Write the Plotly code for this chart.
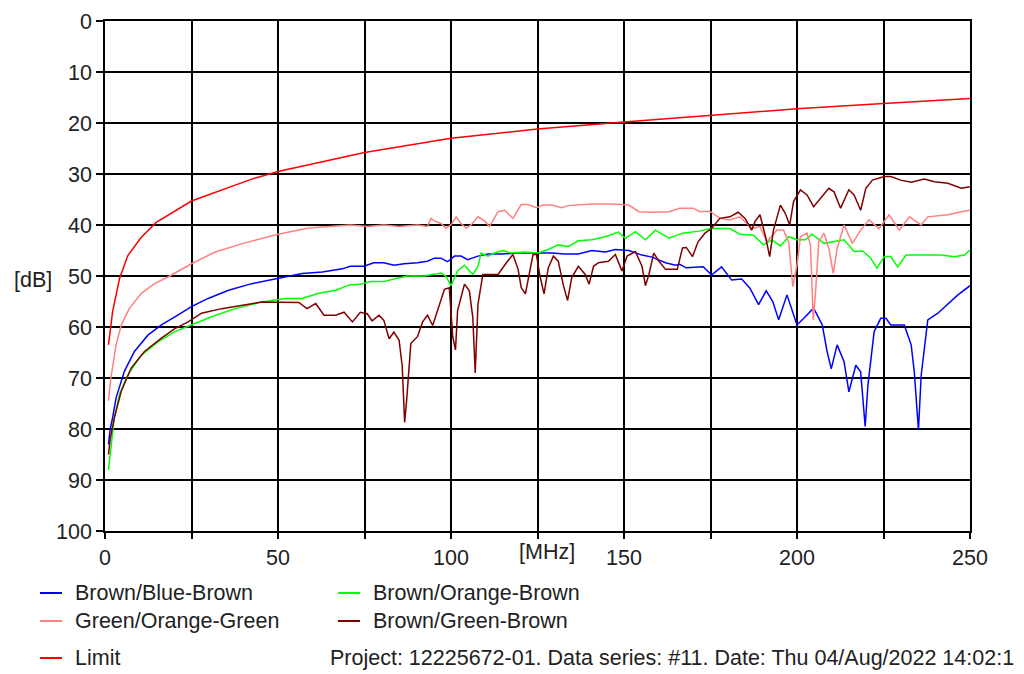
import plotly.graph_objects as go

# ---------------- data ----------------
blue_f = [1, 1.5, 2.2, 3.2, 5.6, 8.5, 12.4, 16.3, 20.2, 25, 29.8, 35.7, 42.4, 50, 57, 62.8, 68.6,
          70.9, 74.8, 77.7, 80.6, 83.5, 86.4, 90.3, 93.2, 95.2, 97.1, 99.0, 101.0, 102.9, 104.8, 107.8,
          110.7, 114.5, 119.4, 125.2, 129.1, 132.9, 136.8, 140.7, 144.6, 147.5, 151.4, 155.2, 158.1,
          162.0, 164.9, 166.1, 168.0, 172.9, 175.3, 178.2, 181.1, 184.0, 186.4, 188.9, 191.1, 193.0,
          194.7, 197.1, 200.0, 202.4, 204.8, 207.3, 208.7, 209.9, 211.6, 213.6, 215.0, 217.0, 218.4,
          219.7, 220.5, 222.3, 224.2, 225.7, 227.1, 231.0, 233.0, 233.9, 235.1, 235.9, 237.8, 240.7,
          243.6, 246.5, 250]
blue_db = [83, 80, 77.8, 73.9, 68.7, 64.8, 61.6, 59.6, 58, 56, 54.4, 52.8, 51.5, 50.5, 49.5, 49.2, 48.6,
           48.1, 48.1, 47.4, 47.4, 47.9, 47.6, 47.4, 47.1, 46.5, 46.5, 47.2, 46.1, 46.1, 46.8, 46.1,
           45.7, 45.7, 45.5, 45.5, 45.5, 45.7, 45.7, 45.0, 45.3, 44.8, 45.0, 45.9, 46.3,
           47.4, 47.9, 47.7, 48.4, 48.2, 49.8, 48.2, 50.8, 50.6, 52.4, 55.6, 52.9, 55.0,
           58.6, 53.7, 59.6, 58.0, 56.3, 59.6, 64.8, 68.2, 63.5, 66.8, 72.7, 67.5, 68.8,
           79.5, 71.4, 60.9, 58.3, 58.3, 59.6, 59.6, 63.5, 68.8, 80.2, 69.4, 58.6, 57.3,
           55.4, 53.7, 51.9]

green_f = [1, 1.5, 2.7, 4.2, 6.6, 10.5, 15.3, 20.2, 25, 30.8, 37.6, 45.3, 52.1, 56.9, 61.8, 66.7,
           70.9, 73.8, 76.7, 80.6, 83.5, 87.4, 92.2, 95.2, 97.1, 98.5, 100, 101.9, 103.9, 106.3, 107.8,
           108.7, 110.7, 112.6, 115.0, 117.4, 121.3, 125.2, 128.1, 131.0, 133.9, 136.8, 140.7, 144.6,
           148.4, 150.4, 153.3, 156.2, 159.1, 163.0, 166.9, 171.7, 175, 180.6, 183.5, 187.4, 190.3,
           192.7, 195.2, 197.6, 200.0, 202.4, 204.4, 207.8, 213.6, 216.5, 218.9, 221.3, 223.1, 225.2,
           227.1, 229.1, 231.5, 235.9, 241.7, 245.5, 248.4, 250]
green_db = [88, 85, 77.8, 73.2, 69.4, 65.5, 62.9, 60.9, 59.6, 58, 56.4, 55.1, 54.4, 54.4, 53.4, 52.8,
            51.7, 51.6, 51.1, 51.1, 50.6, 50.0, 50.0, 49.7, 49.4, 50.0, 51.9, 49.0, 47.9, 49.7, 48.1,
            45.5, 46.1, 45.5, 45.0, 45.5, 45.3, 45.5, 44.8, 43.9, 44.2, 43.1, 42.9, 42.3,
            41.4, 42.6, 41.3, 42.9, 41.0, 42.6, 41.6, 41.2, 40.7, 40.7, 41.8, 42.0, 43.9,
            42.9, 44.1, 42.3, 42.9, 42.9, 41.8, 43.6, 42.9, 45.2, 45.1, 46.5, 48.5, 46.2,
            46.2, 48.2, 45.9, 45.9, 45.9, 46.2, 45.9, 44.9]

pink_f = [1, 1.7, 3.2, 4.7, 7, 10.5, 14.3, 18.2, 25, 31.8, 39.5, 50, 58.9, 68.6,
          70.9, 75.8, 80.6, 85.0, 90.3, 93.2, 94.2, 95.2, 97.1, 98.5, 100, 101.5, 102.9, 104.4, 105.8,
          107.8, 109.7, 111.1, 113.6, 115.5, 116.5, 117.9, 120.3, 122.3, 124.7, 126.6, 129.1, 132.0,
          133.9, 138.8, 140.7, 146.5, 151.4, 154.3, 158.1, 163.0, 166.1, 170.0, 171.9, 174.8, 177.7,
          180.6, 183.5, 185.5, 186.9, 189.3, 191.3, 194.2, 196.1, 197.6, 198.8, 200.0, 201.0, 202.9,
          203.9, 204.7, 205.3, 206.3, 207.8, 209.2, 210.5, 211.6, 213.6, 216.0, 218.4, 220.8, 223.7,
          226.6, 229.6, 232.5, 235.9, 237.8, 243.6, 247.5, 250]
pink_db = [74.5, 70, 63.5, 59.6, 56.4, 53.4, 51.5, 50.2, 47.6, 45.3, 43.7, 41.8, 40.6, 40.1,
           40.0, 40.3, 40.0, 40.3, 40.0, 40.3, 38.7, 39.2, 39.7, 40.6, 40.0, 38.4, 39.7, 40.6, 40.0,
           38.4, 39.2, 40.3, 37.4, 37.1, 37.7, 38.7, 36.0, 36.0, 36.6, 36.1, 36.1, 36.6,
           36.2, 36.0, 35.9, 35.9, 36.1, 37.4, 37.5, 37.4, 36.7, 36.7, 37.4, 37.3, 38.7,
           39.0, 38.4, 39.7, 40.7, 40.3, 43.3, 41.0, 41.0, 43.3, 52.1, 47.8, 42.3, 41.6,
           43.9, 58.6, 53.7, 43.3, 41.6, 44.6, 49.5, 44.6, 40.0, 43.6, 41.0, 39.0, 40.7,
           38.0, 41.0, 38.4, 40.0, 38.4, 38.0, 37.4, 37.1]

brown_f = [1, 1.5, 2.7, 4.7, 7.6, 11.4, 16.3, 20.2, 24, 27.9, 33.7, 40.5, 45.3, 56, 58.4, 60.9, 63.3,
           66.7, 69.1, 71.5, 73.8, 75.8, 77.2, 79.2, 80.6, 82.1, 83.5, 85.0, 85.9, 86.6, 87.2, 88.4,
           90.3, 91.8, 93.2, 94.7, 96.1, 98.1, 99.5, 100, 100.5, 101.3, 101.9, 103.9, 105.3, 106.3,
           107.0, 107.8, 109.2, 111.6, 113.6, 116.0, 117.9, 119.4, 120.3, 121.5, 122.8, 123.7, 124.7,
           125.7, 126.9, 128.1, 129.6, 131.0, 132.5, 133.7, 134.9, 136.8, 138.8, 139.9, 141.2, 142.6,
           145.5, 147.5, 149.4, 150.9, 153.3, 155.2, 156.2, 157.2, 158.6, 160.1, 162.0, 165.4, 166.9,
           168.0, 169.8, 171.4, 173.4, 175.3, 177.7, 180.6, 183.0, 185.0, 186.9, 187.9, 189.3, 190.8,
           192.1, 193.2, 195.2, 196.6, 197.9, 199.0, 201.0, 202.9, 204.8, 206.8, 209.2, 210.7, 212.6,
           215.0, 216.5, 218.4, 219.9, 221.8, 225.2, 227.1, 230.0, 233.0, 236.8, 239.7, 243.6, 247.5,
           250]
brown_db = [85, 82, 77.8, 72.6, 68, 64.8, 62.2, 60.3, 59, 57.3, 56.4, 55.6, 55.1, 55.2, 56.4, 55.4, 57.7,
            57.7, 57.1, 59.0, 57.1, 57.4, 58.8, 57.7, 58.7, 62.3, 61.0, 62.6, 67.7, 78.7, 74.2, 63.2,
            61.9, 59.0, 57.7, 59.7, 56.8, 52.6, 52.3, 56.8, 61.9, 64.5, 56.8, 51.6, 52.9, 58.1,
            69.0, 55.5, 49.7, 49.7, 49.7, 47.4, 45.8, 48.7, 52.3, 53.5, 48.7, 45.8, 45.8,
            50.0, 53.5, 48.4, 46.1, 47.1, 51.9, 54.8, 50.3, 48.1, 49.7, 51.6, 48.1, 47.4,
            47.1, 45.8, 49.0, 46.1, 45.2, 48.1, 51.9, 49.7, 45.5, 47.1, 48.7, 48.7, 44.5,
            44.4, 46.2, 43.3, 41.6, 40.7, 38.7, 38.4, 37.5, 38.7, 41.0, 39.3, 38.0, 42.0,
            46.2, 41.0, 36.1, 37.7, 40.0, 35.4, 33.1, 34.1, 36.4, 34.8, 32.8, 33.5, 36.7,
            33.1, 34.1, 37.1, 32.8, 31.2, 30.5, 30.5, 31.2, 31.6, 31.0, 31.5, 31.8, 32.8,
            32.5]

limit_f = [1, 2.2, 4.2, 6.6, 10.5, 14.8, 25, 42.4, 50, 75, 100, 125, 150, 175, 200, 225, 250]
limit_db = [63.5, 57, 50.5, 46, 42.4, 39.5, 35.3, 31, 29.5, 25.8, 23, 21.2, 19.8, 18.5, 17.2, 16.2, 15.2]

series_names = ["Brown/Blue-Brown", "Brown/Orange-Brown", "Green/Orange-Green",
                "Brown/Green-Brown", "Limit"]
series_colors = ["#0000FF", "#00FF00", "#FF8080", "#800000", "#FF0000"]

x_tickvals = [0, 25, 50, 75, 100, 125, 150, 175, 200, 225, 250]
x_ticktext = ["0", "", "50", "", "100", "", "150", "", "200", "", "250"]
y_tickvals = [0, 10, 20, 30, 40, 50, 60, 70, 80, 90, 100]
y_ticktext = ["0", "10", "20", "30", "40", "50", "60", "70", "80", "90", "100"]

footer_text = "Project: 12225672-01. Data series: #11. Date: Thu 04/Aug/2022 14:02:1"

# ---------------- figure ----------------
# The page body has a default 8px margin; lay out in screen pixels and compensate.
OFF = 8
W, H = 1024 - OFF, 674 - OFF
SL, SR, ST, SB = 105, 970, 21, 531          # plot-area edges in screen pixels
L, T = SL - OFF, ST - OFF
R, B = W - (SR - OFF), H - (SB - OFF)
PW, PH = W - L - R, H - T - B
FONT = "Liberation Sans, Arial, sans-serif"
FS = 21.5


def px(xs):
    return (xs - SL) / (SR - SL)


def py(ys):
    return 1 - (ys - ST) / (SB - ST)


fig = go.Figure()
data = [(blue_f, blue_db), (green_f, green_db), (pink_f, pink_db), (brown_f, brown_db),
        (limit_f, limit_db)]
for (xs, ys), name, col in zip(data, series_names, series_colors):
    fig.add_trace(go.Scatter(x=xs, y=ys, mode="lines", name=name,
                             line=dict(color=col, width=1.5), showlegend=False))

fig.update_layout(
    width=W, height=H,
    margin=dict(l=L, r=R, t=T, b=B, pad=0, autoexpand=False),
    paper_bgcolor="white", plot_bgcolor="white",
    font=dict(family=FONT, size=FS, color="#222222"),
)
fig.update_xaxes(range=[0, 250], tickmode="array", tickvals=x_tickvals, ticktext=x_ticktext,
                 showgrid=True, gridcolor="black", gridwidth=1.6,
                 showline=True, linecolor="black", linewidth=1.6, mirror=True,
                 ticks="outside", ticklen=6, tickcolor="black", tickwidth=1.6,
                 zeroline=False, tickfont=dict(size=FS), automargin=False)
fig.update_yaxes(range=[100, 0], tickmode="array", tickvals=y_tickvals, ticktext=y_ticktext,
                 showgrid=True, gridcolor="black", gridwidth=1.6,
                 showline=True, linecolor="black", linewidth=1.6, mirror=True,
                 ticks="outside", ticklen=7, tickcolor="black", tickwidth=1.6,
                 zeroline=False, tickfont=dict(size=FS), automargin=False)

ann = []
ann.append(dict(text="[dB]", x=px(12), y=py(280), xref="paper", yref="paper",
                xanchor="left", yanchor="middle", showarrow=False))
ann.append(dict(text="[MHz]", x=px(547), y=py(552), xref="paper", yref="paper",
                xanchor="center", yanchor="middle", showarrow=False))

# manual legend (positions in screen pixels)
legend_pos = [(40, 593), (338, 593), (40, 621), (338, 621), (40, 658)]
legend_order = [0, 1, 2, 3, 4]
shapes = []
for idx, (lx, ly) in zip(legend_order, legend_pos):
    shapes.append(dict(type="line", xref="paper", yref="paper",
                       x0=px(lx), x1=px(lx + 22), y0=py(ly), y1=py(ly),
                       line=dict(color=series_colors[idx], width=2)))
    ann.append(dict(text=series_names[idx], x=px(lx + 33), y=py(ly), xref="paper", yref="paper",
                    xanchor="left", yanchor="middle", showarrow=False))
ann.append(dict(text=footer_text, x=px(328), y=py(658), xref="paper", yref="paper",
                xanchor="left", yanchor="middle", showarrow=False))

fig.update_layout(annotations=ann, shapes=shapes)
fig.write_html("out.html")
